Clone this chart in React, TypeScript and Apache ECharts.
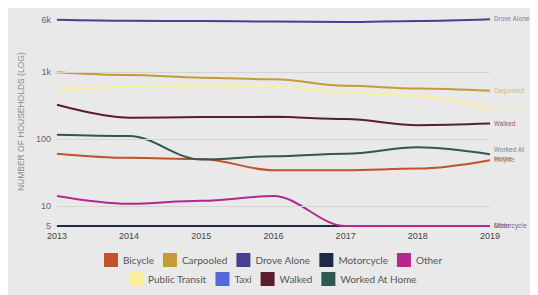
import React, { useEffect, useRef } from "react";
import * as echarts from "echarts";

const years = ["2013", "2014", "2015", "2016", "2017", "2018", "2019"];
const seriesNames = [
  "Bicycle",
  "Carpooled",
  "Drove Alone",
  "Motorcycle",
  "Other",
  "Public Transit",
  "Taxi",
  "Walked",
  "Worked At Home",
];
const bicycle = [60, 52, 50, 34, 34, 36, 48];
const carpooled = [990, 900, 820, 775, 620, 563, 521];
const droveAlone = [5970, 5780, 5720, 5640, 5550, 5760, 6100];
const motorcycle = [5, 5, 5, 5, 5, 5, 5];
const other = [14, 10.7, 11.9, 14, 5, 5, 5];
const publicTransit = [538, 597, 624, 608, 491, 438, 277];
const taxi: (number | null)[] = [null, null, null, null, null, null, null];
const walked = [322, 207, 211, 213, 197, 160, 169];
const workedAtHome = [115, 110, 49, 55, 60, 75, 59];
const yTickValues = [5, 10, 100, 1000, 6000];
const gridValues = [10, 100, 1000];

const colors: Record<string, string> = {
  Bicycle: "#c1522b",
  Carpooled: "#c49b37",
  "Drove Alone": "#483f8e",
  Motorcycle: "#1f2a47",
  Other: "#b5278e",
  "Public Transit": "#f9ef9c",
  Taxi: "#5668da",
  Walked: "#5a1d2a",
  "Worked At Home": "#2f5851",
};
const dataByName: Record<string, (number | null)[]> = {
  Bicycle: bicycle,
  Carpooled: carpooled,
  "Drove Alone": droveAlone,
  Motorcycle: motorcycle,
  Other: other,
  "Public Transit": publicTransit,
  Taxi: taxi,
  Walked: walked,
  "Worked At Home": workedAtHome,
};

export default function App() {
  const ref = useRef<HTMLDivElement>(null);
  useEffect(() => {
    if (!ref.current) return;
    const chart = echarts.init(ref.current, undefined, { renderer: "svg" });
    const series: any[] = seriesNames.map((name, i) => {
      const c = colors[name];
      const s: any = {
        name,
        type: "line",
        data: dataByName[name],
        smooth: 0.35,
        smoothMonotone: "x",
        showSymbol: false,
        symbol: "none",
        lineStyle: { color: c, width: 2 },
        itemStyle: { color: c },
        endLabel: {
          show: true,
          distance: 4,
          color: c,
          opacity: 0.7,
          fontFamily: "Roboto, sans-serif",
          fontSize: 6.6,
          lineHeight: 9,
          formatter: () => (name === "Worked At Home" ? "Worked At\nHome" : name),
        },
      };
      if (i === 0) {
        s.markLine = {
          silent: true,
          symbol: "none",
          label: { show: false },
          lineStyle: { color: "#d4d4d4", width: 1, type: "solid" },
          data: gridValues.map((v) => ({ yAxis: v })),
        };
      }
      return s;
    });
    const legendCommon = {
      left: "center",
      icon: "rect",
      itemWidth: 14,
      itemHeight: 14,
      itemGap: 9,
      padding: 0,
      selectedMode: false,
      textStyle: { color: "#555", fontSize: 10, fontFamily: "Lato, sans-serif" },
    };
    chart.setOption({
      animation: false,
      backgroundColor: "#e9e9e9",
      grid: { left: 47, right: 48, top: 9.4, bottom: 69 },
      xAxis: {
        type: "category",
        data: years,
        boundaryGap: false,
        axisLine: { show: false },
        axisTick: { show: false },
        axisLabel: {
          color: "#444",
          fontSize: 9,
          fontFamily: "Liberation Sans, Arial, sans-serif",
          margin: 5,
        },
        splitLine: { show: false },
      },
      yAxis: {
        type: "log",
        logBase: 10,
        min: 5,
        max: 6500,
        name: "NUMBER OF HOUSEHOLDS (LOG)",
        nameLocation: "middle",
        nameGap: 30,
        nameTextStyle: {
          color: "#8a8a8a",
          fontSize: 8.5,
          fontFamily: "Liberation Sans, Arial, sans-serif",
        },
        axisLine: { show: false },
        axisTick: { show: false },
        splitLine: { show: false },
        axisLabel: {
          customValues: yTickValues,
          color: "#666",
          fontSize: 9,
          fontFamily: "Liberation Sans, Arial, sans-serif",
          margin: 6,
          formatter: (v: number) => (v >= 1000 ? Math.round(v / 1000) + "k" : String(Math.round(v))),
        },
      },
      legend: [
        { ...legendCommon, data: seriesNames.slice(0, 5), top: 245 },
        { ...legendCommon, data: seriesNames.slice(5), top: 264 },
      ],
      series,
    });
    return () => chart.dispose();
  }, []);
  return <div ref={ref} style={{ width: 530, height: 287 }} />;
}
